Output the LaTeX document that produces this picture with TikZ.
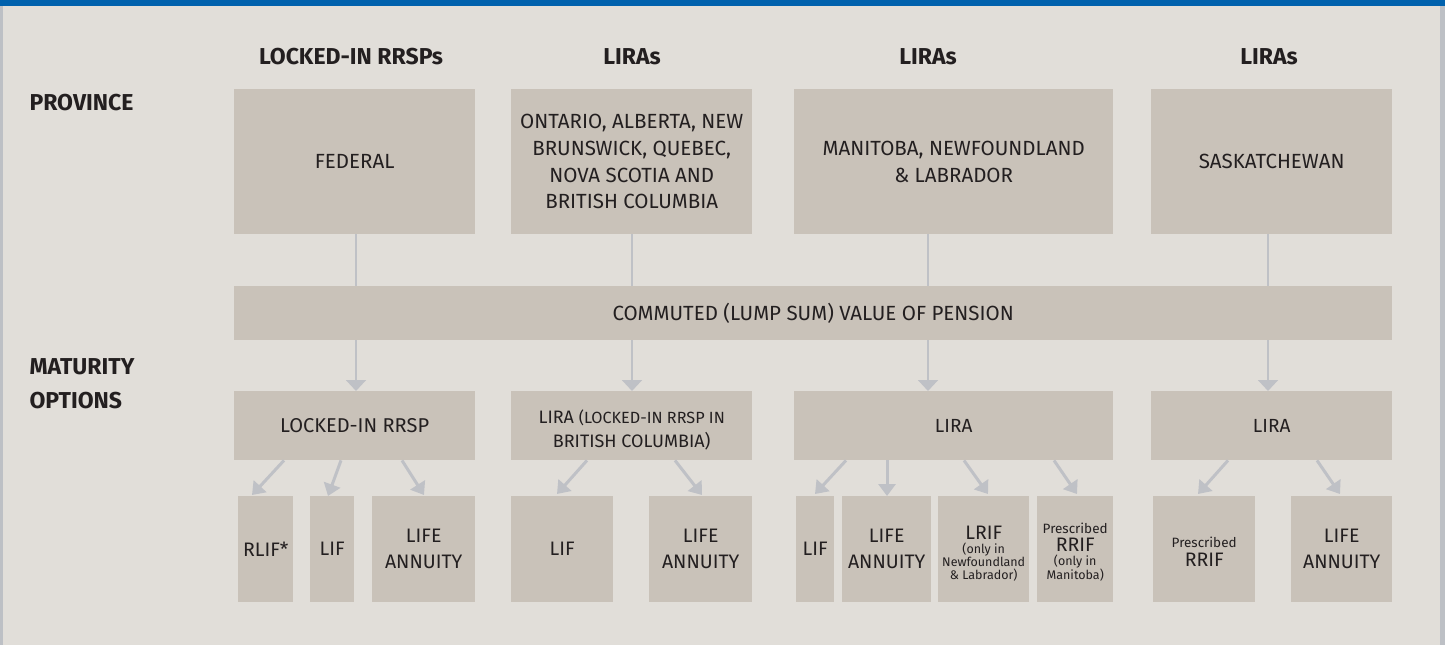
\documentclass[tikz,border=0pt]{standalone}
\usepackage{fontspec}
\setmainfont{Fira Sans}
\usetikzlibrary{arrows.meta,calc}
\definecolor{bgc}{HTML}{E1DED9}
\definecolor{boxc}{HTML}{C9C2B9}
\definecolor{bluec}{HTML}{0061AD}
\definecolor{edgec}{HTML}{BDC0C5}
\definecolor{arrc}{HTML}{BFC1C6}
\definecolor{txtc}{HTML}{231F20}
\begin{document}
\begin{tikzpicture}[x=1pt,y=-1pt,
  box/.style={fill=boxc, inner sep=0pt, anchor=north west, align=center, text=txtc,
    font=\fontsize{20.5}{26.7}\selectfont},
  midbox/.style={box, font=\fontsize{20}{24}\selectfont},
  lowbox/.style={box, font=\fontsize{19.5}{26}\selectfont},
  tinybox/.style={box, font=\fontsize{12.5}{13}\selectfont},
  head/.style={text=txtc, font=\bfseries\fontsize{23}{28}\selectfont},
  side/.style={text=txtc, anchor=west, align=left, font=\bfseries\fontsize{23}{34}\selectfont},
  vline/.style={draw=arrc, line width=2pt},
  varrow/.style={draw=arrc, line width=2pt, -{Triangle[width=20pt,length=11pt]}},
  darrow/.style={draw=arrc, line width=3pt, -{Triangle[width=17pt,length=12pt]}}]
\useasboundingbox (0,0) rectangle (1445,645);
\fill[bgc] (0,0) rectangle (1445,645);
\fill[bluec] (0,0) rectangle (1445,6);
\fill[edgec] (0,6) rectangle (3,645);
\fill[edgec] (1440,6) rectangle (1445,645);

% headers
\node[head] (h1) at (351,57) {LOCKED-IN RRSPs};
\node[head] (h2) at (632,57) {LIRAs};
\node[head] (h3) at (928,57) {LIRAs};
\node[head] (h4) at (1269,57) {LIRAs};
\node[side] (prov) at (26,103) {PROVINCE};
\node[side] (mat) at (26,384) {MATURITY\\OPTIONS};

% top row
\node[box, minimum width=241pt, minimum height=145pt] (fed) at (234,89) {FEDERAL};
\node[box, minimum width=241pt, minimum height=145pt] (ont) at (511,89) {ONTARIO, ALBERTA, NEW\\BRUNSWICK, QUEBEC,\\NOVA SCOTIA AND\\BRITISH COLUMBIA};
\node[box, minimum width=319pt, minimum height=145pt] (man) at (794,89) {MANITOBA, NEWFOUNDLAND\\\& LABRADOR};
\node[box, minimum width=241pt, minimum height=145pt] (sask) at (1151,89) {SASKATCHEWAN};

% commuted
\node[box, minimum width=1158pt, minimum height=54pt] (comm) at (234,286) {COMMUTED (LUMP SUM) VALUE OF PENSION};

% second row
\node[midbox, minimum width=241pt, minimum height=69pt] (r2a) at (234,391) {LOCKED-IN RRSP};
\node[midbox, minimum width=241pt, minimum height=69pt, font=\fontsize{18}{24}\selectfont] (r2b) at (511,391) {\rule{0pt}{22pt}LIRA {\fontsize{16.2}{24}\selectfont(LOCKED-IN RRSP IN}\\BRITISH COLUMBIA)};
\node[midbox, minimum width=319pt, minimum height=69pt, font=\fontsize{19}{24}\selectfont] (r2c) at (794,391) {LIRA};
\node[midbox, minimum width=241pt, minimum height=69pt, font=\fontsize{19}{24}\selectfont] (r2d) at (1151,391) {LIRA};

% third row
\node[lowbox, minimum width=55pt, minimum height=106pt] (rlif) at (238,496) {RLIF*};
\node[lowbox, minimum width=44pt, minimum height=106pt] (lif1) at (310,496) {LIF};
\node[lowbox, minimum width=103pt, minimum height=106pt] (ann1) at (372,496) {LIFE\\ANNUITY};
\node[lowbox, minimum width=102pt, minimum height=106pt] (lif2) at (511,496) {LIF};
\node[lowbox, minimum width=103pt, minimum height=106pt] (ann2) at (649,496) {LIFE\\ANNUITY};
\node[lowbox, minimum width=38pt, minimum height=106pt] (lif3) at (796,496) {LIF};
\node[lowbox, minimum width=89pt, minimum height=106pt] (ann3) at (842,496) {LIFE\\ANNUITY};
\node[tinybox, minimum width=91pt, minimum height=106pt] (lrif) at (938,496)
  {\rule{0pt}{21.5pt}{\fontsize{19.5}{13}\selectfont LRIF}\\[1pt](only in\\Newfoundland\\\& Labrador)};
\node[tinybox, minimum width=76pt, minimum height=106pt] (prr1) at (1037,496)
  {\rule{0pt}{17pt}{\fontsize{13.5}{13}\selectfont Prescribed}\\[3pt]{\fontsize{19.5}{13}\selectfont RRIF}\\[1pt](only in\\Manitoba)};
\node[tinybox, minimum width=102pt, minimum height=106pt] (prr2) at (1153,496)
  {\rule{0pt}{15.5pt}{\fontsize{13.5}{13}\selectfont Prescribed}\\[5pt]{\fontsize{19.5}{13}\selectfont RRIF}};
\node[lowbox, minimum width=101pt, minimum height=106pt] (ann4) at (1291,496) {LIFE\\ANNUITY};

% vertical connectors top -> commuted
\coordinate (t1) at ([xshift=122pt]fed.south west);
\coordinate (t2) at ([xshift=121pt]ont.south west);
\coordinate (t3) at ([xshift=134pt]man.south west);
\coordinate (t4) at ([xshift=117pt]sask.south west);
\foreach \c in {t1,t2,t3,t4} \draw[vline] (\c) -- (\c |- comm.north);

% commuted -> second row
\coordinate (s1) at ([xshift=122pt]r2a.north west);
\coordinate (s2) at ([xshift=121pt]r2b.north west);
\coordinate (s3) at ([xshift=134pt]r2c.north west);
\coordinate (s4) at ([xshift=117pt]r2d.north west);
\foreach \c in {s1,s2,s3,s4} \draw[varrow] (\c |- comm.south) -- (\c);

% second row -> third row
\draw[darrow] ([xshift=50pt]r2a.south west) -- ([xshift=14pt,yshift=1pt]rlif.north west);
\draw[darrow] ([xshift=107pt]r2a.south west) -- ([xshift=18pt]lif1.north west);
\draw[darrow] ([xshift=168pt]r2a.south west) -- ([xshift=52pt,yshift=1pt]ann1.north west);
\draw[darrow] ([xshift=76pt]r2b.south west) -- ([xshift=46pt,yshift=2pt]lif2.north west);
\draw[darrow] ([xshift=164pt]r2b.south west) -- ([xshift=53pt,yshift=1pt]ann2.north west);
\draw[darrow] ([xshift=52pt]r2c.south west) -- ([xshift=19pt,yshift=2pt]lif3.north west);
\draw[darrow] ([xshift=93pt]r2c.south west) -- ([xshift=45pt]ann3.north west);
\draw[darrow] ([xshift=170pt]r2c.south west) -- ([xshift=50pt,yshift=2pt]lrif.north west);
\draw[darrow] ([xshift=260pt]r2c.south west) -- ([xshift=40pt,yshift=2pt]prr1.north west);
\draw[darrow] ([xshift=77pt]r2d.south west) -- ([xshift=45pt,yshift=2pt]prr2.north west);
\draw[darrow] ([xshift=166pt]r2d.south west) -- ([xshift=49pt,yshift=2pt]ann4.north west);
\end{tikzpicture}
\end{document}
